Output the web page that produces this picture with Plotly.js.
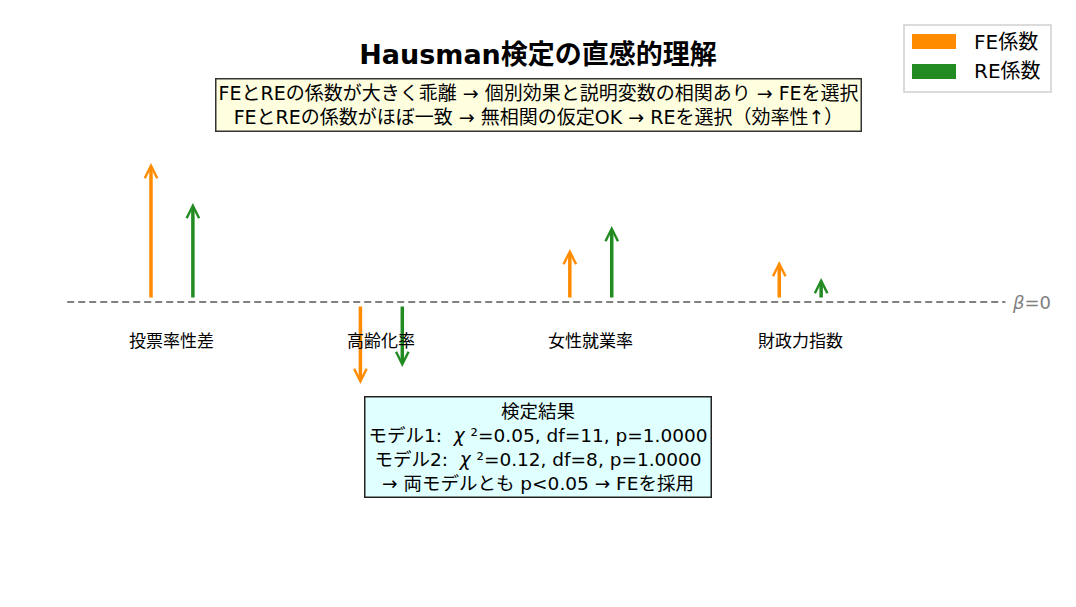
<!DOCTYPE html>
<html>
<head>
<meta charset="utf-8">
<script src="https://cdn.plot.ly/plotly-3.0.1.min.js"></script>
<style>
  body { margin: 0; background: #fff; }
  #chart { width: 1076px; height: 607px; }
</style>
</head>
<body>
<div id="chart"></div>
<script>
// variables and coefficients
const variables = ['投票率性差', '高齢化率', '女性就業率', '財政力指数'];
const feCoef = [1.39, -0.82, 0.53, 0.41];
const reCoef = [0.99, -0.65, 0.76, 0.24];

const feColor = '#ff8c00';
const reColor = '#228b22';
const jp = '"DejaVu Sans", "Noto Sans CJK JP", sans-serif';

const offset = 0.1;
const annotations = [];

// arrows from beta=0 to the coefficient
function addArrows(coefs, shift, color) {
  coefs.forEach(function(v, i) {
    annotations.push({
      x: i + shift, y: v, ax: i + shift, ay: 0,
      xref: 'x', yref: 'y', axref: 'x', ayref: 'y',
      text: '', showarrow: true,
      arrowhead: 5, arrowsize: 0.7, arrowwidth: 3.5,
      arrowcolor: color, standoff: 0, startstandoff: 3
    });
  });
}
addArrows(feCoef, -offset, feColor);
addArrows(reCoef, offset, reColor);

// category labels under the zero line
variables.forEach(function(name, i) {
  annotations.push({
    x: i, y: -0.39, xref: 'x', yref: 'y', xanchor: 'center', yanchor: 'middle',
    text: name, showarrow: false,
    font: { family: jp, size: 17, color: '#000' }
  });
});

annotations.push({
  x: 4.0, y: 0, xref: 'x', yref: 'y', xanchor: 'left', yanchor: 'middle',
  text: '<i>β</i>=0', showarrow: false,
  font: { family: '"DejaVu Sans", sans-serif', size: 18, color: '#808080' }
});

annotations.push({
  x: 538 / 1076, y: 1 - 105 / 607, xref: 'paper', yref: 'paper',
  xanchor: 'center', yanchor: 'middle',
  text: 'FEとREの係数が大きく乖離 → 個別効果と説明変数の相関あり → FEを選択<br>FEとREの係数がほぼ一致 → 無相関の仮定OK → REを選択（効率性↑）',
  showarrow: false, align: 'center',
  font: { family: jp, size: 19, color: '#000' },
  bgcolor: '#ffffe0', bordercolor: '#333', borderwidth: 1.5, borderpad: 2
});

annotations.push({
  x: 538 / 1076, y: 1 - 447 / 607, xref: 'paper', yref: 'paper',
  xanchor: 'center', yanchor: 'middle',
  text: '検定結果<br>モデル1:  <i>χ</i> ²=0.05, df=11, p=1.0000<br>モデル2:  <i>χ</i> ²=0.12, df=8, p=1.0000<br>→ 両モデルとも p&lt;0.05 → FEを採用',
  showarrow: false, align: 'center',
  font: { family: jp, size: 18.5, color: '#000' },
  bgcolor: '#e0ffff', bordercolor: '#222', borderwidth: 1.5, borderpad: 3
});

// legend drawn by hand to get the wide patches
const legendItems = [['FE係数', feColor], ['RE係数', reColor]];
const shapes = [
  { type: 'line', xref: 'x', yref: 'y', x0: -0.5, x1: 3.98, y0: 0, y1: 0,
    line: { color: '#808080', width: 2, dash: '7px,4px' } },
  { type: 'rect', xref: 'paper', yref: 'paper',
    x0: 904 / 1076, x1: 1051 / 1076, y0: 1 - 92 / 607, y1: 1 - 25 / 607,
    line: { color: '#d0d0d0', width: 1.5 }, fillcolor: 'rgba(255,255,255,0.8)' }
];
legendItems.forEach(function(item, k) {
  const top = 34 + k * 30;
  shapes.push({
    type: 'rect', xref: 'paper', yref: 'paper',
    x0: 912 / 1076, x1: 956 / 1076, y0: 1 - (top + 15) / 607, y1: 1 - top / 607,
    line: { width: 0 }, fillcolor: item[1]
  });
  annotations.push({
    x: 972 / 1076, y: 1 - (top + 7.5) / 607, xref: 'paper', yref: 'paper',
    xanchor: 'left', yanchor: 'middle', text: item[0], showarrow: false,
    font: { family: jp, size: 20, color: '#000' }
  });
});

const traces = [];

const layout = {
  width: 1076, height: 607,
  margin: { l: 0, r: 0, t: 0, b: 0 },
  paper_bgcolor: '#fff', plot_bgcolor: '#fff',
  title: {
    text: '<b>Hausman検定の直感的理解</b>',
    x: 0.5, xanchor: 'center', y: 1 - 55 / 607, yanchor: 'middle',
    font: { family: jp, size: 27, color: '#000' }
  },
  xaxis: { range: [-0.821, 4.317], visible: false, fixedrange: true },
  yaxis: { range: [-3.05, 3.02], visible: false, fixedrange: true },
  showlegend: false,
  shapes: shapes,
  annotations: annotations
};

Plotly.newPlot('chart', traces, layout, { displayModeBar: false, staticPlot: true });
</script>
</body>
</html>
